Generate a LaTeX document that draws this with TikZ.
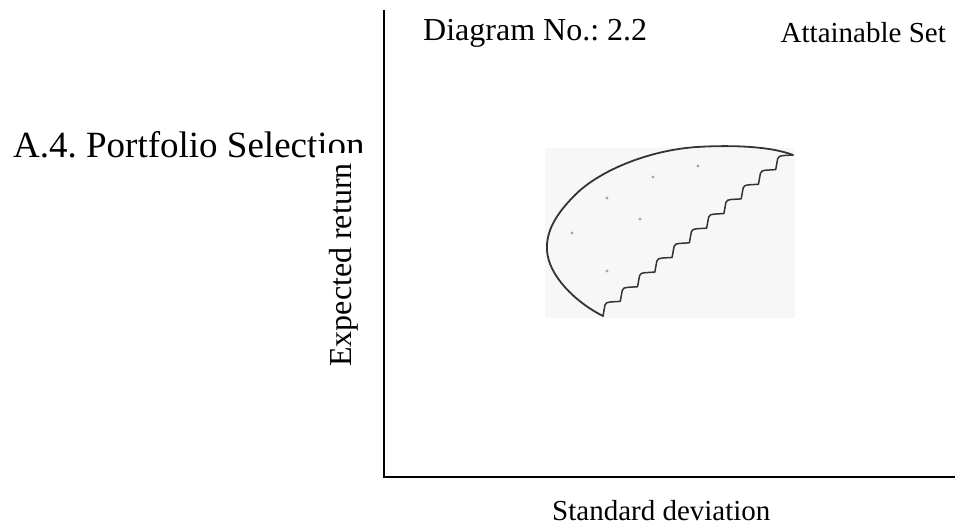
\documentclass[tikz,border=0pt]{standalone}
\usepackage{fontspec}
\setmainfont{Liberation Serif}
\frenchspacing
\begin{document}
\begin{tikzpicture}[x=1pt,y=-1pt,
  axis/.style={line width=1.8pt,black},
  frontier/.style={line width=1.8pt,black!80,line join=round,line cap=round},
  dotmark/.style={fill=black!35,draw=none},
  lbl/.style={inner sep=0pt,text=black}]
\useasboundingbox (0,0) rectangle (955,527);
% faint scanned background
\fill[black!3] (545,148) rectangle (795,318);
% labels
\node[lbl,anchor=base west,font=\fontsize{37}{40}\selectfont] (title) at (13,157) {A.4. Portfolio Selection};
\node[lbl,anchor=base west,font=\fontsize{32}{36}\selectfont] (diag) at (423,41) {Diagram No.: 2.2};
\node[lbl,anchor=base east,font=\fontsize{29}{32}\selectfont] (att) at (946,42) {Attainable Set};
\node[lbl,anchor=base west,font=\fontsize{29}{33}\selectfont] (xlab) at (552,520) {Standard deviation};
\node[rotate=90,fill=white,inner xsep=10pt,inner ysep=14pt,font=\fontsize{32}{36}\selectfont] (ylab) at (344,265) {Expected return};
% axes
\coordinate (top) at (384,10);
\coordinate (org) at (384,477);
\coordinate (right) at (955,477);
\draw[axis] (top) -- (org) -- (right);
% attainable set
\coordinate (tr) at (793,155);
\coordinate (bt) at (603,316);
\draw[frontier] (tr) .. controls (770,146) and (730,145) .. (697,147)
  .. controls (650,150) and (600,170) .. (575,195)
  .. controls (555,215) and (546,232) .. (547,250)
  .. controls (548,275) and (575,302) .. (bt);
\draw[frontier,line width=1.5pt] (bt)
  foreach \i in {0,...,10} { -- ++(2,-11) .. controls +(1,-2) and +(-3,0) .. ++(5,-3) -- ++(10.27,-0.64) };
% scattered portfolios
\foreach \p in {(698,166),(653,177),(607,198),(640,219),(572,233),(607,271)}
  \fill[dotmark] \p circle (1.6);
\end{tikzpicture}
\end{document}
